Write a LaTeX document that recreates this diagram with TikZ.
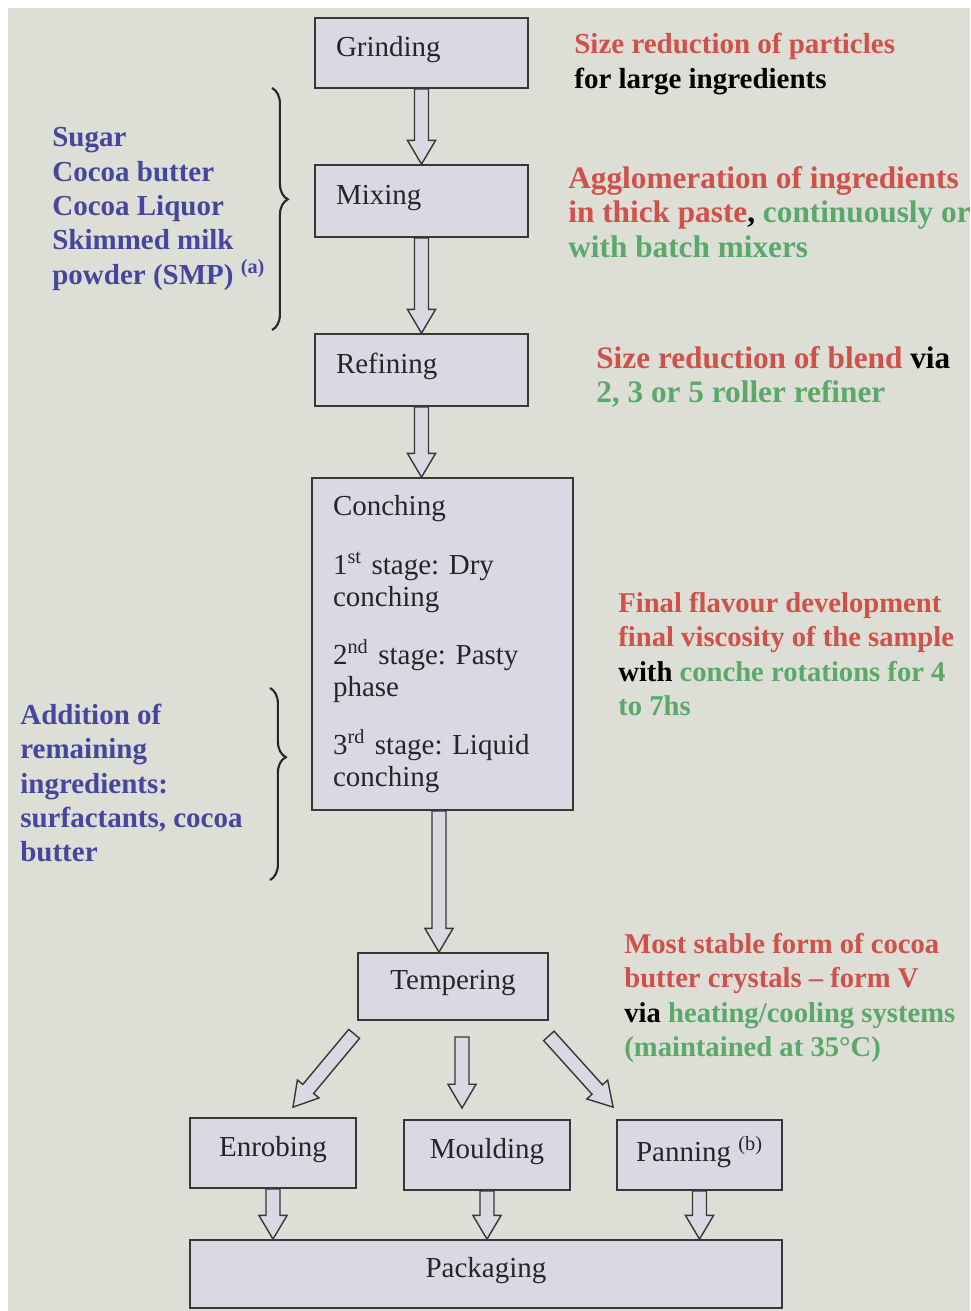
\documentclass[tikz,border=0pt]{standalone}
\usepackage{fontspec}
\setmainfont{Liberation Serif}
\usetikzlibrary{calc,decorations.pathreplacing,positioning}

\definecolor{slidebg}{RGB}{221,222,214}
\definecolor{boxfill}{RGB}{217,217,228}
\definecolor{edgegray}{RGB}{55,55,55}
\definecolor{notered}{RGB}{208,80,74}
\definecolor{notegreen}{RGB}{90,168,106}
\definecolor{noteblue}{RGB}{70,70,158}

\newcommand{\boxfont}{\fontsize{16.5}{18.2}\selectfont}
\newcommand{\notefont}[1]{\fontsize{#1}{19.5}\selectfont\bfseries}
\newcommand{\sidefont}{\fontsize{16.5}{19.5}\selectfont\bfseries}

% hollow block arrow from #1 to #2
\newcommand{\blockarrow}[2]{%
  \draw[flowblock] let \p3=($(#2)!13.5pt!(#1)$) in
    ($(#1)!4pt!90:(#2)$) -- ($(\p3)!4pt!-90:(#1)$) -- ($(\p3)!8pt!-90:(#1)$) -- (#2)
    -- ($(\p3)!8pt!90:(#1)$) -- ($(\p3)!4pt!90:(#1)$) -- ($(#1)!4pt!-90:(#2)$) -- cycle;}

\tikzset{
  stepbox/.style={draw=edgegray, fill=boxfill, line width=1pt, inner sep=0pt,
    font=\boxfont, text=black!85, text depth=0.26cm},
  leftbox/.style={stepbox, align=left, inner xsep=0.42cm, text width=3.42cm,
    minimum height=1.44cm},
  flowblock/.style={draw=edgegray, fill=boxfill, line width=0.8pt, line join=miter},
  note/.style={anchor=west, align=left, inner sep=0pt, font=\notefont{#1}},
  note/.default=16.5,
  side/.style={anchor=west, align=left, inner sep=0pt, font=\sidefont, text=noteblue},
  ingbrace/.style={draw=black!85, line width=1.2pt, decorate},
}

\begin{document}
\frenchspacing
\begin{tikzpicture}[x=0.02cm, y=-0.02cm]
	\useasboundingbox (0,0) rectangle (970,1311);
	\fill[white] (0,0) rectangle (970,1311);
	\fill[slidebg] (8,8) rectangle (970,1311);

%	main line of steps
	\node[leftbox, minimum height=1.4cm] (grind) at (421.5,53) {Grinding};
	\node[leftbox] (mix) at (421.5,201) {Mixing};
	\node[leftbox] (refine) at (421.5,370) {Refining};
	\node[stepbox, text depth=, align=left, inner xsep=0.42cm, text width=4.38cm,
	      minimum height=6.64cm] (conch) at (442.5,644) {Conching\\[0.56cm]
	      1\textsuperscript{st} stage: Dry\\conching\\[0.52cm]
	      2\textsuperscript{nd} stage: Pasty\\phase\\[0.52cm]
	      3\textsuperscript{rd} stage: Liquid\\conching};
	\node[stepbox, minimum width=3.8cm, minimum height=1.34cm] (temp) at (453,986.5) {Tempering};

%	the three ways out of tempering
	\node[stepbox, minimum width=3.32cm, minimum height=1.4cm] (enrob) at (273,1153) {Enrobing};
	\node[stepbox, minimum width=3.32cm, minimum height=1.4cm] (mould) at (487,1155) {Moulding};
	\node[stepbox, minimum width=3.3cm, minimum height=1.4cm] (pan) at (699.5,1155) {Panning \textsuperscript{(b)}};
	\node[stepbox, minimum width=11.84cm, minimum height=1.36cm] (pack) at (486,1274) {Packaging};

	\coordinate (rc) at (refine.south |- conch.north);
	\coordinate (cs) at ([xshift=-2]conch.south);
	\coordinate (ct) at (cs |- temp.north);
	\coordinate (tl) at ([shift={(-3,13)}]temp.south west);
	\coordinate (tm) at (462,1037);
	\coordinate (tr) at ([shift={(0,15)}]temp.south east);
	\coordinate (el) at ([shift={(20,-10)}]enrob.north);
	\coordinate (em) at (462,1108);
	\coordinate (er) at ([shift={(-3,-12)}]pan.north west);
	\coordinate (pe) at (enrob.south |- pack.north);
	\coordinate (pm) at (mould.south |- pack.north);
	\coordinate (pp) at (pan.south |- pack.north);

	\blockarrow{grind.south}{mix.north}
	\blockarrow{mix.south}{refine.north}
	\blockarrow{refine.south}{rc}
	\blockarrow{cs}{ct}
	\blockarrow{tl}{el}
	\blockarrow{tm}{em}
	\blockarrow{tr}{er}
	\blockarrow{enrob.south}{pe}
	\blockarrow{mould.south}{pm}
	\blockarrow{pan.south}{pp}

%	ingredients on the left
	\node[side] (base) at (52,209) {Sugar\\Cocoa butter\\Cocoa Liquor\\Skimmed milk\\
	      powder (SMP) \textsuperscript{(a)}};
	\node[side] (rest) at (20,783) {Addition of\\remaining\\ingredients:\\
	      surfactants, cocoa\\butter};
	\draw[ingbrace, decoration={brace, amplitude=9pt, aspect=0.46}] (272,88) -- (272,330);
	\draw[ingbrace, decoration={brace, amplitude=9pt, aspect=0.36}] (270,688) -- (270,880);

%	notes on the right
	\node[note] (ngrind) at (574,64) {\textcolor{notered}{Size reduction of particles}\\
	      for large ingredients};
	\node[note=17.8] (nmix) at (568,212) {\textcolor{notered}{Agglomeration of ingredients}\\
	      \textcolor{notered}{in thick paste}, \textcolor{notegreen}{continuously or}\\
	      \textcolor{notegreen}{with batch mixers}};
	\node[note=17.8] (nrefine) at (596,377) {\textcolor{notered}{Size reduction of blend} via\\
	      \textcolor{notegreen}{2, 3 or 5 roller refiner}};
	\node[note=16.3] (nconch) at (618,654) {\textcolor{notered}{Final flavour development}\\
	      \textcolor{notered}{final viscosity of the sample}\\
	      with \textcolor{notegreen}{conche rotations for 4}\\
	      \textcolor{notegreen}{to 7hs}};
	\node[note=16.3] (ntemp) at (624,998) {\textcolor{notered}{Most stable form of cocoa}\\
	      \textcolor{notered}{butter crystals -- form V}\\
	      via \textcolor{notegreen}{heating/cooling systems}\\
	      \textcolor{notegreen}{(maintained at 35°C)}};
\end{tikzpicture}
\end{document}
